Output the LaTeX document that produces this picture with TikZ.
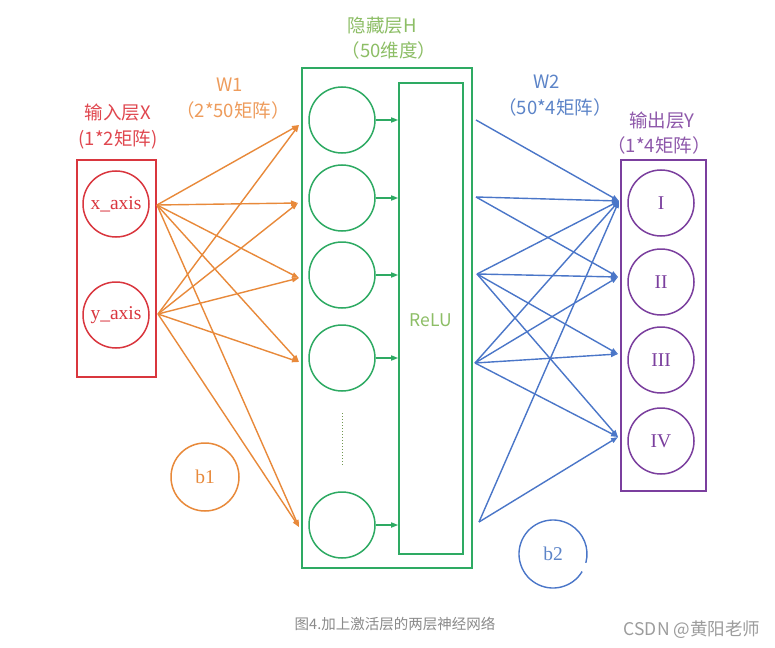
\documentclass[tikz,border=0pt]{standalone}
\usepackage{fontspec}
\setmainfont{Liberation Serif}
\newfontfamily\cjk{Noto Sans CJK SC}
\usetikzlibrary{arrows.meta}
\definecolor{cred}{HTML}{D9363E}
\definecolor{tred}{HTML}{E0474F}
\definecolor{corange}{HTML}{E8893A}
\definecolor{torange}{HTML}{EE9C5C}
\definecolor{cgreen}{HTML}{2EAA63}
\definecolor{tgreen}{HTML}{8DBE66}
\definecolor{cblue}{HTML}{4A76C8}
\definecolor{tblue}{HTML}{5C84C8}
\definecolor{cpurple}{HTML}{7B3F9E}
\definecolor{tpurple}{HTML}{8E58AA}
\definecolor{cgray}{HTML}{8A8A8A}
\begin{document}
\begin{tikzpicture}[x=1pt,y=-1pt,
  boxnode/.style={draw, line width=1.6pt, inner sep=0pt, rectangle},
  neuron/.style={draw, circle, line width=1.5pt, inner sep=0pt, minimum size=66pt, font=\fontsize{19.5}{22}\selectfont},
  lbl/.style={inner sep=0pt, font=\cjk\fontsize{18.5}{21}\selectfont},
  oarrow/.style={corange, line width=1.4pt, -{Triangle[length=7pt,width=5pt]}},
  barrow/.style={cblue, line width=1.4pt, -{Triangle[length=7pt,width=5pt]}},
  garrow/.style={cgreen, line width=1.5pt, -{Triangle[length=7pt,width=5pt]}}
]
\useasboundingbox (0,0) rectangle (775,647);
\fill[white] (0,0) rectangle (775,647);

% ---------- input layer ----------
\node[boxnode, draw=cred, minimum width=79pt, minimum height=217pt] (inbox) at (116.5,268.5) {};
\node[neuron, draw=cred, text=cred] (xa) at (116,204) {x\_axis};
\node[neuron, draw=cred, text=cred] (ya) at (116,315) {y\_axis};
\node[lbl, text=tred] (inl1) at (118,113) {输入层X};
\node[lbl, text=tred] (inl2) at (118,140) {(1*2矩阵)};

% ---------- hidden layer ----------
\node[boxnode, draw=cgreen, minimum width=170pt, minimum height=500pt] (hbox) at (387,318) {};
\node[boxnode, draw=cgreen, minimum width=64pt, minimum height=471pt] (relu) at (431,318.5) {};
\node[inner sep=0pt, text=tgreen, font=\cjk\fontsize{17.5}{20}\selectfont] (relut) at (431,320) {ReLU};
\foreach \i/\yy in {1/120,2/198,3/275,4/358,5/525}{
  \node[neuron, draw=cgreen] (h\i) at (342,\yy) {};
  \draw[garrow] (h\i.east) -- (relu.west |- h\i.east);
}
\coordinate (d1) at (342,413);
\coordinate (d2) at (342,466);
\draw[tgreen!80!black, line width=1pt, dotted] (d1) -- (d2);
\node[lbl, text=tgreen] (hl1) at (382,26) {隐藏层H};
\node[lbl, text=tgreen] (hl2) at (389,50) {（50维度）};

% ---------- output layer ----------
\node[boxnode, draw=cpurple, minimum width=85pt, minimum height=331pt] (obox) at (663.5,325.5) {};
\node[neuron, draw=cpurple, text=cpurple] (o1) at (661,203) {I};
\node[neuron, draw=cpurple, text=cpurple] (o2) at (661,282) {II};
\node[neuron, draw=cpurple, text=cpurple] (o3) at (661,360) {III};
\node[neuron, draw=cpurple, text=cpurple] (o4) at (661,441) {IV};
\node[lbl, text=tpurple] (ol1) at (662,121) {输出层Y};
\node[lbl, text=tpurple] (ol2) at (659,145) {（1*4矩阵）};

% ---------- W1 ----------
\node[lbl, text=torange] (w1a) at (230,85) {W1};
\node[lbl, text=torange] (w1b) at (233,110) {（2*50矩阵）};
\coordinate (xs) at (157,205);
\coordinate (ys) at (158,314);
\coordinate (t1) at (299,125);
\coordinate (t2) at (298,203);
\coordinate (t3) at (299,278);
\coordinate (t4) at (299,362);
\coordinate (t5) at (299,527);
\foreach \t in {t1,t2,t3,t4,t5}{
  \draw[oarrow] (xs) -- (\t);
  \draw[oarrow] (ys) -- (\t);
}
\node[neuron, draw=corange, text=corange, minimum size=68pt] (b1) at (205,477) {b1};

% ---------- W2 ----------
\node[lbl, text=tblue] (w2a) at (547,82) {W2};
\node[lbl, text=tblue] (w2b) at (555,107) {（50*4矩阵）};
\coordinate (s1) at (476,120);
\coordinate (s2) at (476,197);
\coordinate (s3) at (477,274);
\coordinate (s4) at (475,363);
\coordinate (s5) at (479,522);
\coordinate (e1) at (619,201);
\coordinate (e2) at (618,277);
\coordinate (e3) at (618,354);
\coordinate (e4) at (618,437);
\foreach \s/\e in {s1/e1,s2/e1,s2/e2,s3/e1,s3/e2,s3/e3,s3/e4,s4/e1,s4/e2,s4/e3,s4/e4,s5/e1,s5/e4}{
  \draw[barrow] (\s) -- (\e);
}
\node[circle, inner sep=0pt, minimum size=68pt, text=tblue, font=\fontsize{19.5}{22}\selectfont] (b2) at (553,554) {b2};
\draw[cblue, line width=1.4pt] (b2.center) ++(-31:34pt) arc[start angle=-31, end angle=-375, radius=34pt];

% ---------- caption ----------
\node[inner sep=0pt, text=cgray, font=\cjk\fontsize{14.5}{17}\selectfont] (cap) at (395,624) {图4.加上激活层的两层神经网络};
\node[inner sep=0pt, text=cgray!85!white, font=\cjk\fontsize{17.5}{20}\selectfont] (wm) at (692,630) {CSDN @黄阳老师};
\end{tikzpicture}
\end{document}
